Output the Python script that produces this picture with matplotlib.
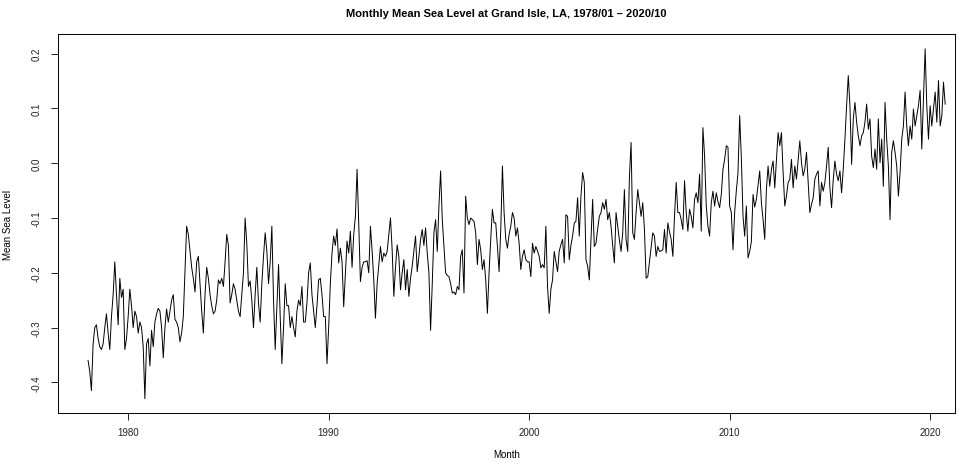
import numpy as np
import matplotlib
matplotlib.use("Agg")
import matplotlib.pyplot as plt

plt.rcParams['font.family'] = ['Liberation Sans', 'DejaVu Sans']

# monthly mean sea level (m), Grand Isle LA, one row per year
msl_1978 = [-0.36, -0.38, -0.415, -0.33, -0.30, -0.295, -0.32, -0.335, -0.34, -0.33, -0.30, -0.275]
msl_1979 = [-0.31, -0.34, -0.28, -0.24, -0.18, -0.24, -0.295, -0.21, -0.245, -0.23, -0.34, -0.32]
msl_1980 = [-0.28, -0.23, -0.26, -0.30, -0.27, -0.28, -0.31, -0.29, -0.30, -0.335, -0.43, -0.33]
msl_1981 = [-0.32, -0.37, -0.305, -0.335, -0.29, -0.275, -0.265, -0.27, -0.30, -0.355, -0.30, -0.266]
msl_1982 = [-0.29, -0.27, -0.25, -0.24, -0.285, -0.29, -0.30, -0.326, -0.31, -0.28, -0.20, -0.115]
msl_1983 = [-0.13, -0.16, -0.19, -0.21, -0.235, -0.18, -0.17, -0.22, -0.27, -0.31, -0.24, -0.19]
msl_1984 = [-0.21, -0.24, -0.26, -0.275, -0.27, -0.25, -0.213, -0.22, -0.21, -0.225, -0.18, -0.13]
msl_1985 = [-0.15, -0.255, -0.24, -0.22, -0.23, -0.25, -0.27, -0.28, -0.24, -0.20, -0.10, -0.146]
msl_1986 = [-0.225, -0.215, -0.25, -0.30, -0.24, -0.19, -0.255, -0.29, -0.22, -0.17, -0.127, -0.16]
msl_1987 = [-0.22, -0.18, -0.115, -0.25, -0.34, -0.26, -0.185, -0.28, -0.366, -0.30, -0.22, -0.26]
msl_1988 = [-0.26, -0.30, -0.28, -0.30, -0.317, -0.27, -0.25, -0.26, -0.225, -0.29, -0.29, -0.255]
msl_1989 = [-0.20, -0.182, -0.24, -0.27, -0.30, -0.26, -0.213, -0.21, -0.24, -0.28, -0.28, -0.366]
msl_1990 = [-0.30, -0.22, -0.164, -0.133, -0.15, -0.12, -0.182, -0.155, -0.18, -0.262, -0.20, -0.142]
msl_1991 = [-0.164, -0.124, -0.19, -0.13, -0.097, -0.011, -0.11, -0.216, -0.19, -0.18, -0.18, -0.178]
msl_1992 = [-0.20, -0.115, -0.16, -0.213, -0.283, -0.22, -0.185, -0.152, -0.18, -0.164, -0.17, -0.161]
msl_1993 = [-0.13, -0.10, -0.158, -0.243, -0.19, -0.149, -0.17, -0.231, -0.20, -0.176, -0.231, -0.194]
msl_1994 = [-0.243, -0.21, -0.188, -0.16, -0.133, -0.198, -0.17, -0.139, -0.121, -0.15, -0.118, -0.164]
msl_1995 = [-0.20, -0.305, -0.22, -0.127, -0.103, -0.161, -0.078, -0.014, -0.103, -0.15, -0.20, -0.205]
msl_1996 = [-0.207, -0.22, -0.237, -0.235, -0.24, -0.225, -0.231, -0.17, -0.158, -0.237, -0.06, -0.10]
msl_1997 = [-0.112, -0.10, -0.103, -0.106, -0.127, -0.185, -0.139, -0.158, -0.194, -0.176, -0.213, -0.274]
msl_1998 = [-0.20, -0.139, -0.084, -0.109, -0.109, -0.152, -0.198, -0.121, -0.005, -0.09, -0.139, -0.155]
msl_1999 = [-0.13, -0.115, -0.09, -0.10, -0.133, -0.118, -0.146, -0.194, -0.17, -0.158, -0.176, -0.18]
msl_2000 = [-0.18, -0.207, -0.146, -0.164, -0.152, -0.16, -0.17, -0.191, -0.185, -0.191, -0.115, -0.225]
msl_2001 = [-0.274, -0.23, -0.213, -0.161, -0.18, -0.198, -0.16, -0.149, -0.139, -0.182, -0.094, -0.097]
msl_2002 = [-0.176, -0.15, -0.133, -0.109, -0.106, -0.063, -0.133, -0.06, -0.017, -0.035, -0.176, -0.188]
msl_2003 = [-0.213, -0.14, -0.066, -0.152, -0.146, -0.12, -0.097, -0.09, -0.072, -0.084, -0.066, -0.103]
msl_2004 = [-0.09, -0.115, -0.15, -0.182, -0.09, -0.115, -0.14, -0.161, -0.127, -0.048, -0.139, -0.161]
msl_2005 = [-0.026, 0.038, -0.127, -0.139, -0.09, -0.048, -0.072, -0.097, -0.072, -0.121, -0.21, -0.207]
msl_2006 = [-0.18, -0.152, -0.127, -0.133, -0.17, -0.152, -0.161, -0.16, -0.158, -0.121, -0.164, -0.109]
msl_2007 = [-0.125, -0.139, -0.17, -0.097, -0.035, -0.09, -0.09, -0.103, -0.121, -0.032, -0.09, -0.124]
msl_2008 = [-0.084, -0.097, -0.118, -0.066, -0.054, -0.072, -0.02, -0.124, 0.065, 0.013, -0.078, -0.115]
msl_2009 = [-0.133, -0.072, -0.051, -0.078, -0.054, -0.07, -0.081, -0.057, -0.011, 0.007, 0.032, 0.029]
msl_2010 = [-0.078, -0.09, -0.158, -0.09, -0.05, -0.017, 0.087, 0.01, -0.097, -0.133, -0.078, -0.173]
msl_2011 = [-0.161, -0.143, -0.057, -0.08, -0.066, -0.04, -0.014, -0.072, -0.103, -0.139, -0.048, -0.005]
msl_2012 = [-0.042, -0.011, 0.004, -0.045, 0.007, 0.056, 0.032, 0.056, -0.017, -0.078, -0.06, -0.035]
msl_2013 = [-0.029, 0.007, -0.045, -0.005, -0.029, 0.007, 0.041, 0.001, -0.023, -0.01, 0.02, -0.035]
msl_2014 = [-0.09, -0.075, -0.063, -0.029, -0.02, -0.014, -0.078, -0.035, -0.051, -0.035, -0.005, 0.029]
msl_2015 = [-0.045, -0.081, -0.03, 0.004, -0.02, -0.032, -0.014, -0.054, -0.01, 0.044, 0.105, 0.16]
msl_2016 = [0.105, -0.002, 0.081, 0.111, 0.075, 0.05, 0.032, 0.05, 0.056, 0.075, 0.108, 0.062]
msl_2017 = [0.081, 0.013, -0.008, 0.026, -0.011, 0.081, 0.001, 0.044, -0.042, 0.111, 0.044, -0.005]
msl_2018 = [-0.103, 0.02, 0.041, 0.02, -0.005, -0.06, -0.017, 0.044, 0.068, 0.13, 0.068, 0.032]
msl_2019 = [0.068, 0.044, 0.099, 0.068, 0.087, 0.105, 0.133, 0.026, 0.117, 0.209, 0.105, 0.044]
msl_2020 = [0.105, 0.068, 0.099, 0.13, 0.075, 0.151, 0.068, 0.087, 0.148, 0.108]

years = [msl_1978, msl_1979, msl_1980, msl_1981, msl_1982, msl_1983, msl_1984,
         msl_1985, msl_1986, msl_1987, msl_1988, msl_1989, msl_1990, msl_1991,
         msl_1992, msl_1993, msl_1994, msl_1995, msl_1996, msl_1997, msl_1998,
         msl_1999, msl_2000, msl_2001, msl_2002, msl_2003, msl_2004, msl_2005,
         msl_2006, msl_2007, msl_2008, msl_2009, msl_2010, msl_2011, msl_2012,
         msl_2013, msl_2014, msl_2015, msl_2016, msl_2017, msl_2018, msl_2019,
         msl_2020]
msl = np.concatenate(years)
t = 1978 + np.arange(len(msl)) / 12.0

x_ticks = [1980, 1990, 2000, 2010, 2020]
y_ticks = [-0.4, -0.3, -0.2, -0.1, 0.0, 0.1, 0.2]

fig = plt.figure(figsize=(9.7, 4.64), dpi=100)
ax = fig.add_axes([58 / 970, 50 / 464, 897 / 970, 379 / 464])
ax.plot(t, msl, color='black', lw=0.7)

ax.set_xlim(1976.5, 2021.24)
ax.set_ylim(-0.456, 0.236)
ax.set_xticks(x_ticks)
ax.set_yticks(y_ticks)
ax.set_yticklabels(['%.1f' % v for v in y_ticks], rotation=90, va='center')
ax.tick_params(direction='out', length=5, width=0.7, labelsize=7, colors='#222222')
ax.tick_params(axis='x', pad=5)
ax.tick_params(axis='y', pad=7)
for s in ax.spines.values():
    s.set_linewidth(0.7)

ax.set_xlabel('Month', fontsize=7, labelpad=9)
ax.set_ylabel('Mean Sea Level', fontsize=7, labelpad=13)
# title centred over the plotting box, not the whole figure
ax.set_title('Monthly Mean Sea Level at Grand Isle, LA, 1978/01 \u2013 2020/10',
             fontsize=8, fontweight='bold', pad=13)

fig.savefig('out.png', dpi=100)
